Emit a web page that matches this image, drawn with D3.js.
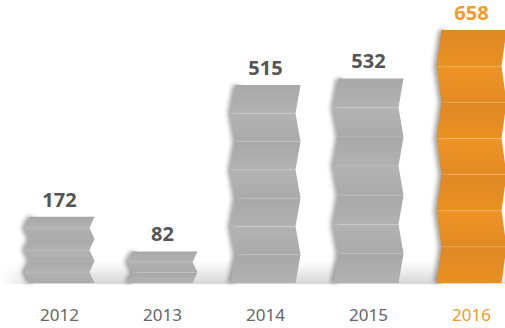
<!DOCTYPE html>
<html>
<head>
<meta charset="utf-8">
<script src="https://cdn.jsdelivr.net/npm/d3@7"></script>
<style>
  html, body { margin: 0; padding: 0; background: #fff; }
  svg { display: block; }
</style>
</head>
<body>
<div id="chart"></div>
<script>
var years = ["2012", "2013", "2014", "2015", "2016"];
var values = [172, 82, 515, 532, 658];
var folds = [6, 3, 7, 7, 7];
var highlight = "2016";

var width = 505, height = 328;
var baseY = 283;

var svg = d3.select("#chart")
  .append("svg")
  .attr("width", width)
  .attr("height", height);

var defs = svg.append("defs");

// floor shading under the bars
var floorGrad = defs.append("linearGradient")
  .attr("id", "floor")
  .attr("x1", 0).attr("y1", 0).attr("x2", 0).attr("y2", 1);
floorGrad.append("stop").attr("offset", "0%").attr("stop-color", "#ffffff");
floorGrad.append("stop").attr("offset", "100%").attr("stop-color", "#d6d6d6");

var floorFade = defs.append("linearGradient")
  .attr("id", "floorFade")
  .attr("x1", 0).attr("y1", 0).attr("x2", 1).attr("y2", 0);
floorFade.append("stop").attr("offset", "0%").attr("stop-color", "#fff").attr("stop-opacity", 1);
floorFade.append("stop").attr("offset", "8%").attr("stop-color", "#fff").attr("stop-opacity", 0);
floorFade.append("stop").attr("offset", "92%").attr("stop-color", "#fff").attr("stop-opacity", 0);
floorFade.append("stop").attr("offset", "100%").attr("stop-color", "#fff").attr("stop-opacity", 0.3);

defs.append("filter")
  .attr("id", "blur")
  .attr("x", "-50%").attr("width", "200%")
  .append("feGaussianBlur")
  .attr("stdDeviation", 2);

// panel gradients, two per colour (alternate folds)
var panelColors = {
  gray: [["#a8a8a8", "#b2b2b2"], ["#b3b3b3", "#aaaaaa"]],
  orange: [["#df8826", "#e9911f"], ["#ec9426", "#e38b22"]]
};
Object.keys(panelColors).forEach(function(key){
  panelColors[key].forEach(function(pair, i){
    var g = defs.append("linearGradient")
      .attr("id", key + i)
      .attr("x1", 0).attr("y1", 0).attr("x2", 0).attr("y2", 1);
    g.append("stop").attr("offset", "0%").attr("stop-color", pair[0]);
    g.append("stop").attr("offset", "100%").attr("stop-color", pair[1]);
  });
});

var x = d3.scaleBand()
  .domain(years)
  .range([8, 523])
  .paddingInner(0.32)
  .paddingOuter(0.16);

var y = d3.scaleLinear()
  .domain([0, d3.max(values)])
  .range([baseY, 30]);

svg.append("rect")
  .attr("x", 0)
  .attr("y", baseY - 22)
  .attr("width", width)
  .attr("height", 23)
  .attr("fill", "url(#floor)");
svg.append("rect")
  .attr("x", 0)
  .attr("y", baseY - 22)
  .attr("width", width)
  .attr("height", 23)
  .attr("fill", "url(#floorFade)");

var amp = 5;

var edgeX = function(x0, x1, k, side){
  // left edge: inner on even folds, right edge: outer on even folds
  if(side == "left") return k % 2 == 0 ? x0 + amp : x0;
  return k % 2 == 0 ? x1 : x1 - amp;
};

var bars = svg.selectAll(".bar")
  .data(years)
  .enter().append("g")
  .attr("class", "bar");

bars.each(function(yr, i){
  var g = d3.select(this);
  var x0 = x(yr), x1 = x(yr) + x.bandwidth();
  var top = y(values[i]);
  var n = folds[i];
  var ph = (baseY - top) / n;
  var key = yr == highlight ? "orange" : "gray";

  // blurred shadow along the left side
  var shadow = [];
  for(var k = 0; k <= n; k++){
    shadow.push([edgeX(x0, x1, k, "left") - 3, top + k * ph]);
  }
  for(var k = n; k >= 0; k--){
    shadow.push([edgeX(x0, x1, k, "left") + 4, top + k * ph]);
  }
  g.append("polygon")
    .attr("points", shadow.map(function(p){ return p.join(","); }).join(" "))
    .attr("fill", "#4a4a4a")
    .attr("opacity", 0.5)
    .attr("filter", "url(#blur)");

  d3.range(n).forEach(function(k){
    var ya = top + k * ph, yb = top + (k + 1) * ph;
    var pts = [
      [edgeX(x0, x1, k, "left"), ya],
      [edgeX(x0, x1, k, "right"), ya],
      [edgeX(x0, x1, k + 1, "right"), yb],
      [edgeX(x0, x1, k + 1, "left"), yb]
    ];
    g.append("polygon")
      .attr("points", pts.map(function(p){ return p.join(","); }).join(" "))
      .attr("fill", "url(#" + key + (k % 2) + ")");
    if(k > 0){
      g.append("line")
        .attr("x1", pts[0][0]).attr("x2", pts[1][0])
        .attr("y1", ya).attr("y2", ya)
        .attr("stroke", "#ffffff")
        .attr("stroke-opacity", 0.12)
        .attr("stroke-width", 1);
    }
  });

  g.append("text")
    .attr("x", x0 + x.bandwidth() / 2)
    .attr("y", top - 10)
    .attr("text-anchor", "middle")
    .style("font-family", "'Open Sans', 'Noto Sans', sans-serif")
    .style("font-weight", "bold")
    .style("font-size", "20px")
    .attr("fill", yr == highlight ? "#f39a2b" : "#555555")
    .text(values[i]);
});

var xAxis = d3.axisBottom(x).tickSize(0).tickPadding(0);

var axisG = svg.append("g")
  .attr("transform", "translate(0," + 309 + ")")
  .call(xAxis);
axisG.select(".domain").remove();
axisG.selectAll("text")
  .style("font-family", "'Noto Sans', 'Open Sans', sans-serif")
  .style("font-size", "17px")
  .attr("dy", "0.71em")
  .attr("fill", function(d){ return d == highlight ? "#f39a2b" : "#666666"; });
</script>
</body>
</html>
